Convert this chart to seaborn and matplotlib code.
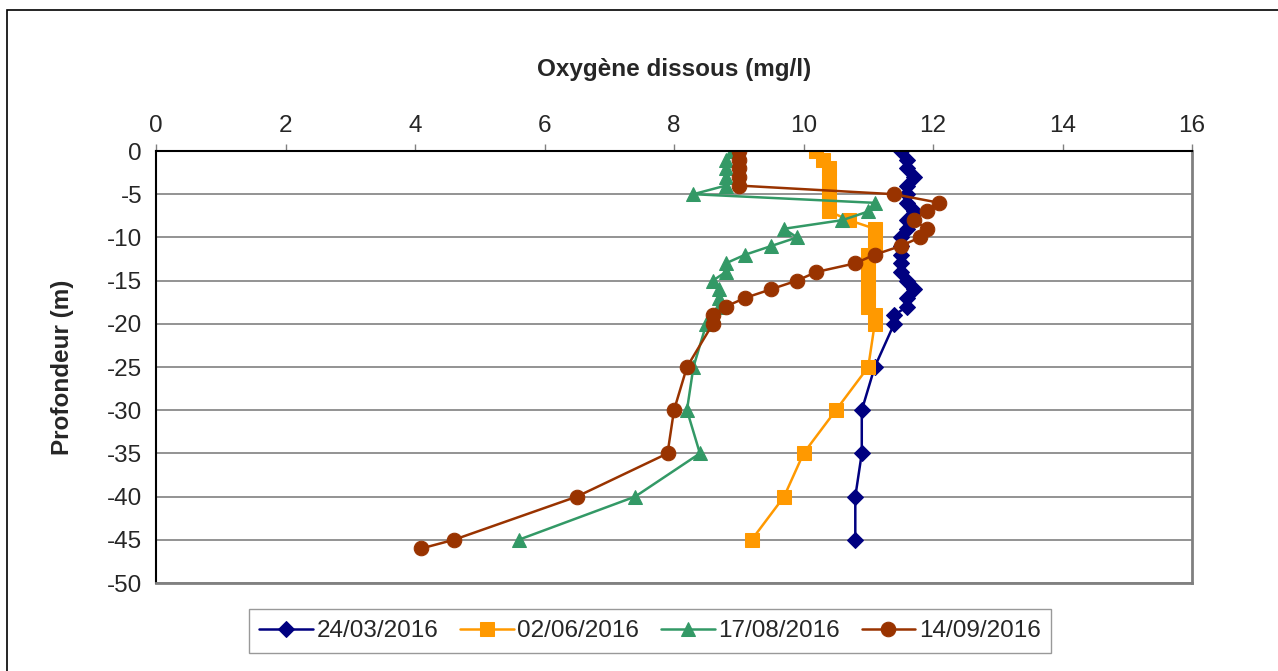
import pandas as pd
import numpy as np
import matplotlib
matplotlib.use('Agg')
import matplotlib.pyplot as plt
import seaborn as sns

# depths (m)
depth_a = [0, -1, -2, -3, -4, -5, -6, -7, -8, -9, -10, -11, -12, -13, -14, -15, -16, -17, -18, -19, -20,
           -25, -30, -35, -40, -45]
depth_d = depth_a + [-46]

# dissolved oxygen (mg/l)
o2_2403 = [11.5, 11.6, 11.6, 11.7, 11.6, 11.6, 11.6, 11.7, 11.6, 11.6, 11.5, 11.5, 11.5, 11.5, 11.5, 11.6, 11.7, 11.6, 11.6, 11.4, 11.4,
           11.1, 10.9, 10.9, 10.8, 10.8]
o2_0206 = [10.2, 10.3, 10.4, 10.4, 10.4, 10.4, 10.4, 10.4, 10.7, 11.1, 11.1, 11.1, 11.0, 11.0, 11.0, 11.0, 11.0, 11.0, 11.0, 11.1, 11.1,
           11.0, 10.5, 10.0, 9.7, 9.2]
o2_1708 = [8.9, 8.8, 8.8, 8.8, 8.8, 8.3, 11.1, 11.0, 10.6, 9.7, 9.9, 9.5, 9.1, 8.8, 8.8, 8.6, 8.7, 8.7, 8.7, 8.6, 8.5,
           8.3, 8.2, 8.4, 7.4, 5.6]
o2_1409 = [9.0, 9.0, 9.0, 9.0, 9.0, 11.4, 12.1, 11.9, 11.7, 11.9, 11.8, 11.5, 11.1, 10.8, 10.2, 9.9, 9.5, 9.1, 8.8, 8.6, 8.6,
           8.2, 8.0, 7.9, 6.5, 4.6, 4.1]

dates = ['24/03/2016', '02/06/2016', '17/08/2016', '14/09/2016']
colors = ['#000080', '#FF9900', '#339966', '#993300']
markers = ['D', 's', '^', 'o']
msizes = [8.5, 10, 10.5, 10.5]

sns.set_style('white')
plt.rcParams['font.family'] = ['Liberation Sans', 'DejaVu Sans']
plt.rcParams['axes.unicode_minus'] = False

fig = plt.figure(figsize=(12.78, 6.71), dpi=100)
ax = fig.add_axes([156 / 1278, 1 - 583 / 671, (1192 - 156) / 1278, (583 - 151) / 671])

series = [(depth_a, o2_2403), (depth_a, o2_0206), (depth_a, o2_1708), (depth_d, o2_1409)]
for (d, v), lab, c, m, ms in zip(series, dates, colors, markers, msizes):
    df = pd.DataFrame({'o2': v, 'depth': d})
    sns.lineplot(data=df, x='o2', y='depth', sort=False, estimator=None, orient='y',
                 color=c, marker=m, markersize=ms, markeredgecolor=c, linewidth=1.8,
                 label=lab, ax=ax)

ax.set_xlim(0, 16)
ax.set_ylim(-50, 0)
ax.set_xticks(np.arange(0, 17, 2))
ax.set_yticks(np.arange(-50, 1, 5))
ax.xaxis.tick_top()
ax.xaxis.set_label_position('top')
ax.tick_params(axis='x', direction='out', length=5, width=1, color='#808080', labelsize=17.5, pad=5)
ax.tick_params(axis='y', direction='out', length=6, width=1, color='#808080', labelsize=17.5, pad=4)
ax.yaxis.grid(True, color='#808080', linewidth=1.2)
ax.set_axisbelow(True)

ax.spines['top'].set_color('black')
ax.spines['left'].set_color('black')
ax.spines['top'].set_linewidth(1.5)
ax.spines['left'].set_linewidth(1.5)
ax.spines['right'].set_color('#808080')
ax.spines['bottom'].set_color('#808080')
ax.spines['right'].set_linewidth(2)
ax.spines['bottom'].set_linewidth(2)

ax.set_xlabel('Oxygène dissous (mg/l)', fontsize=17.5, fontweight='bold', labelpad=28)
ax.set_ylabel('Profondeur (m)', fontsize=17.5, fontweight='bold', labelpad=24)

ax.legend(loc='center', bbox_to_anchor=(650 / 1278, 1 - 631 / 671), bbox_transform=fig.transFigure,
          ncol=4, fontsize=17.5, frameon=True, fancybox=False, edgecolor='#808080',
          handlelength=2.2, columnspacing=0.9, handletextpad=0.15, borderpad=0.45)

# outer chart frame
fig.patches.append(plt.Rectangle((7 / 1278, -0.05), 1.1, 1 - 10 / 671 + 0.05, transform=fig.transFigure,
                                 fill=False, edgecolor='black', linewidth=1.2))

fig.savefig('out.png', dpi=100)
